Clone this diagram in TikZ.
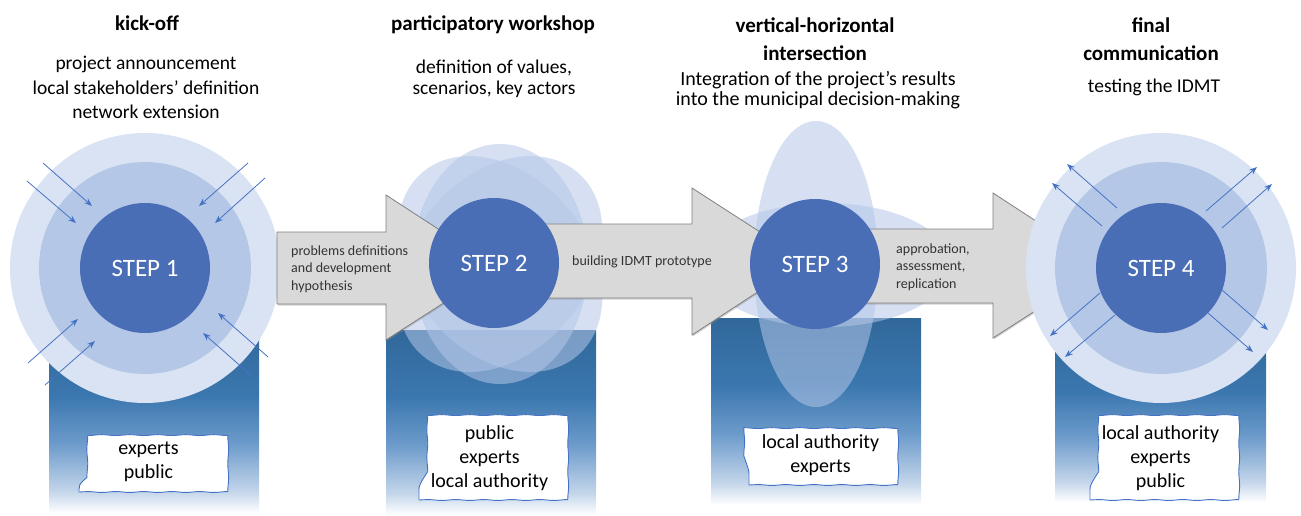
\documentclass[tikz,border=0pt]{standalone}
\usepackage{fontspec}
\setmainfont{Carlito}
\usetikzlibrary{arrows.meta,decorations.pathmorphing,shadows}
\definecolor{outerc}{HTML}{DAE3F3}
\definecolor{midc}{HTML}{B4C7E7}
\definecolor{innerc}{HTML}{4A6EB5}
\definecolor{arrowblue}{HTML}{4472C4}
\definecolor{grayfill}{HTML}{D9D9D9}
\definecolor{grayline}{HTML}{7F7F7F}
\definecolor{fbA}{HTML}{C3D5EA}
\definecolor{fbB}{HTML}{6C9BCB}
\definecolor{fbC}{HTML}{3B77AF}
\definecolor{fbD}{HTML}{31689A}
\pgfdeclareverticalshading{fadeblue}{100bp}{color(0bp)=(white); color(25bp)=(white); color(31bp)=(fbA); color(44bp)=(fbB); color(57bp)=(fbC); color(75bp)=(fbD); color(100bp)=(fbD)}
\begin{document}
\begin{tikzpicture}[x=1pt,y=-1pt,
  stepc/.style={circle, fill=innerc, minimum size=130pt, inner sep=0pt, text=white, font=\fontsize{25}{30}\selectfont},
  ringmid/.style={circle, fill=midc, minimum size=212pt, inner sep=0pt},
  ringout/.style={circle, fill=outerc, minimum size=270pt, inner sep=0pt},
  cloudell/.style={fill=midc, fill opacity=0.55},
  bigarrow/.style={fill=grayfill, draw=grayline, line width=0.8pt, drop shadow={shadow xshift=0.8pt, shadow yshift=-1.5pt, opacity=0.35}},
  smallarr/.style={draw=arrowblue, line width=0.8pt, -{Stealth[length=8pt,width=6pt]}},
  peoplebox/.style={draw=arrowblue, fill=white, line width=0.9pt, decorate, decoration={snake, amplitude=0.45pt, segment length=28pt}, align=center, font=\fontsize{20}{24}\selectfont, inner sep=0pt},
  bluecol/.style={shading=fadeblue},
  titletxt/.style={font=\bfseries\fontsize{21}{28}\selectfont, align=center},
  subtxt/.style={font=\fontsize{19.5}{24.5}\selectfont, align=center},
  arrtxt/.style={font=\fontsize{14}{17.5}\selectfont, align=left, text=black!80, anchor=west, inner sep=0pt}]
\useasboundingbox (0,0) rectangle (1301,516);

% gradient columns
\shade[bluecol] (49,330) rectangle (259,513);
\shade[bluecol] (386,330) rectangle (596,515);
\shade[bluecol] (711,318) rectangle (921,505);
\shade[bluecol] (1055,330) rectangle (1266,502);

% step 1 rings
\node[ringout] (s1out) at (145,268) {};
\node[ringmid] (s1mid) at (145,268) {};

% step 2 cloud
\fill[cloudell] (500,264) ellipse [x radius=120, y radius=88, rotate=50];
\fill[cloudell] (500,264) ellipse [x radius=120, y radius=88, rotate=90];
\fill[cloudell] (500,264) ellipse [x radius=120, y radius=88, rotate=130];

% step 3 ellipses
\fill[cloudell] (816,264) ellipse [x radius=62, y radius=143];
\fill[cloudell] (826,265) ellipse [x radius=125, y radius=62];

% big gray arrows
\draw[bigarrow] (277,232) -- (386,232) -- (386,195) -- (498,268) -- (386,340) -- (386,304) -- (277,304) -- cycle;
\draw[bigarrow] (530,224) -- (692,224) -- (692,188) -- (805,261) -- (692,335) -- (692,298) -- (530,298) -- cycle;
\draw[bigarrow] (860,229) -- (993,229) -- (993,193) -- (1105,266) -- (993,338) -- (993,303) -- (860,303) -- cycle;

\node[arrtxt] (t1) at (291,269) {problems definitions\\and development\\hypothesis};
\node[arrtxt] (t2) at (572,262) {building IDMT prototype};
\node[arrtxt] (t3) at (896,267) {approbation,\\assessment,\\replication};

% step 4 rings
\node[ringout] (s4out) at (1161,268) {};
\node[ringmid] (s4mid) at (1161,268) {};

% step circles
\node[stepc] (s1) at (145,268) {STEP 1};
\node[stepc] (s2) at (494,263) {STEP 2};
\node[stepc] (s3) at (815,264) {STEP 3};
\node[stepc] (s4) at (1161,268) {STEP 4};

% step 1 inward arrows
\coordinate (a1s) at (43,163);  \coordinate (a1e) at (92,206);
\coordinate (a2s) at (27,181);  \coordinate (a2e) at (76,223);
\coordinate (a3s) at (248,163); \coordinate (a3e) at (199,206);
\coordinate (a4s) at (265,178); \coordinate (a4e) at (215,223);
\coordinate (a5s) at (28,363);  \coordinate (a5e) at (78,319);
\coordinate (a6s) at (45,385);  \coordinate (a6e) at (95,341);
\coordinate (a7s) at (268,357); \coordinate (a7e) at (218,313);
\coordinate (a8s) at (253,377); \coordinate (a8e) at (203,333);
\foreach \i in {1,...,8} {\draw[smallarr] (a\i s) -- (a\i e);}

% step 4 outward arrows
\coordinate (b1s) at (1117,208); \coordinate (b1e) at (1067,164);
\coordinate (b2s) at (1102,226); \coordinate (b2e) at (1052,183);
\coordinate (b3s) at (1206,211); \coordinate (b3e) at (1257,167);
\coordinate (b4s) at (1222,228); \coordinate (b4e) at (1272,184);
\coordinate (b5s) at (1100,293); \coordinate (b5e) at (1050,336);
\coordinate (b6s) at (1115,315); \coordinate (b6e) at (1065,357);
\coordinate (b7s) at (1222,290); \coordinate (b7e) at (1268,330);
\coordinate (b8s) at (1208,313); \coordinate (b8e) at (1253,352);
\foreach \i in {1,...,8} {\draw[smallarr] (b\i s) -- (b\i e);}

% people boxes
\node[peoplebox, minimum width=139pt, minimum height=60pt] (p1) at (148.5,462) {experts\\public};
\node[peoplebox, minimum width=141pt, minimum height=83pt] (p2) at (489.5,458.5) {public\\experts\\local authority};
\node[peoplebox, minimum width=143pt, minimum height=60pt] (p3) at (820.5,455) {local authority\\experts};
\node[peoplebox, minimum width=141pt, minimum height=83pt] (p4) at (1160.5,458.5) {local authority\\experts\\public};

% titles
\node[titletxt] (h1) at (147,23) {kick-off};
\node[subtxt] (d1) at (146,87.5) {project announcement\\local stakeholders' definition\\network extension};
\node[titletxt] (h2) at (493,25) {participatory workshop};
\node[subtxt, font=\fontsize{19.5}{21}\selectfont] (d2) at (494,78.5) {definition of values,\\scenarios, key actors};
\node[titletxt] (h3) at (815,39) {vertical-horizontal\\intersection};
\node[subtxt, font=\fontsize{20}{20}\selectfont] (d3) at (818,90) {Integration of the project’s results\\into the municipal decision-making};
\node[titletxt] (h4) at (1151,39) {final\\communication};
\node[subtxt] (d4) at (1154,87) {testing the IDMT};
\end{tikzpicture}
\end{document}
